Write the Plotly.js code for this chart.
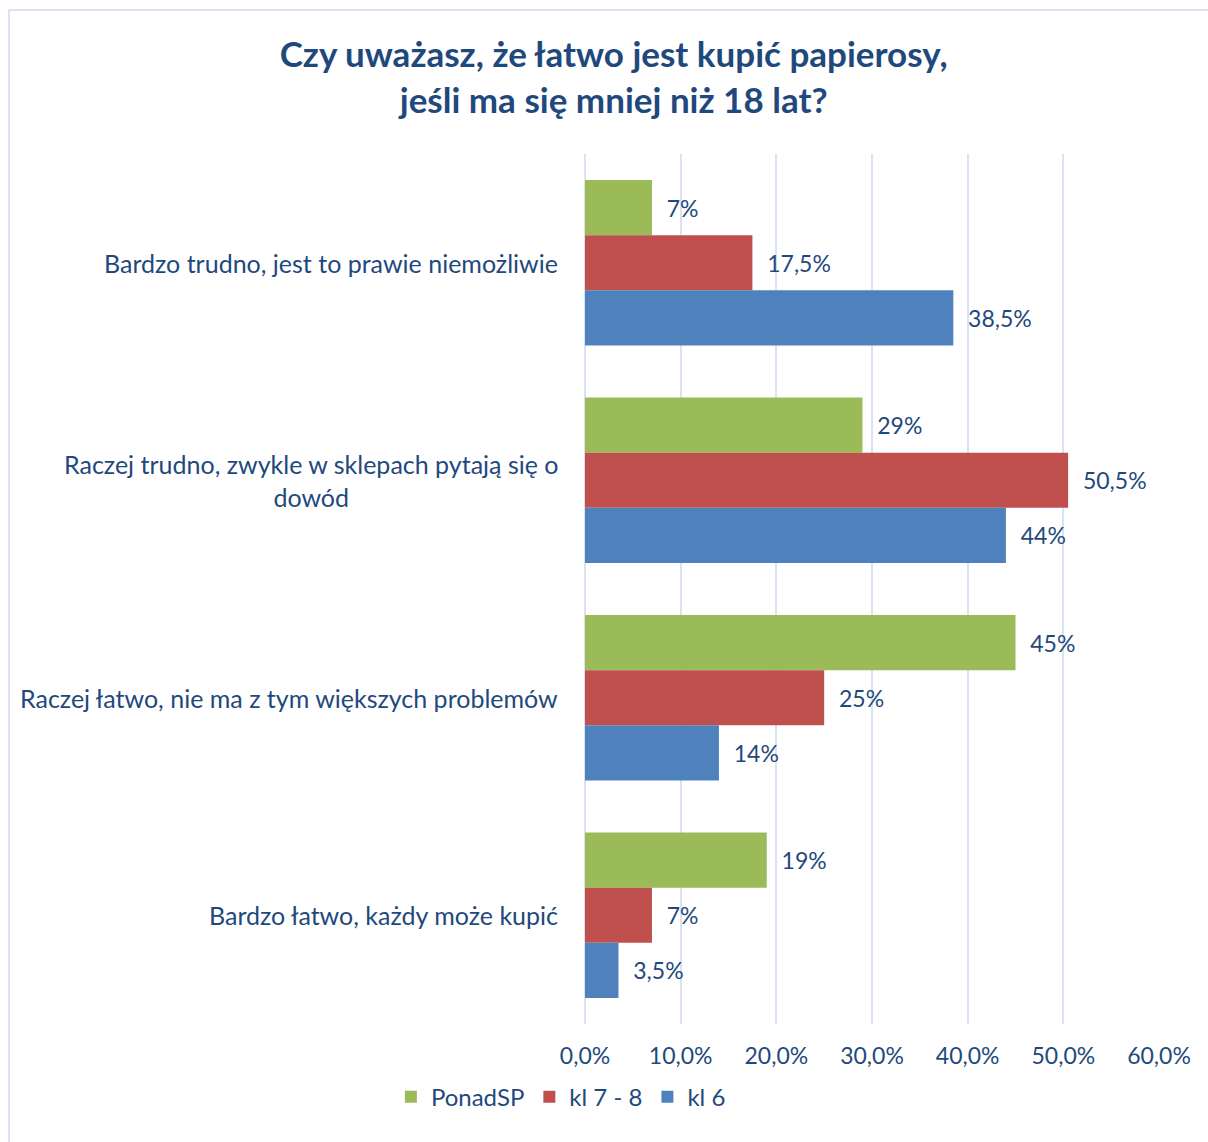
<!DOCTYPE html>
<html>
<head>
<meta charset="utf-8">
<script src="https://cdn.plot.ly/plotly-3.0.1.min.js"></script>
<style>
  html, body { margin: 0; padding: 0; background: #fff; }
  #wrap { position: relative; width: 1208px; height: 1142px; overflow: hidden; }
  #chart { position: absolute; left: 0; top: 0; width: 1208px; height: 1142px; }
  #frame { position: absolute; left: 8px; top: 9px; width: 1199px; height: 1140px;
           border-left: 2px solid #D9E3F1; border-top: 2px solid #D9E3F1; pointer-events: none; }
</style>
</head>
<body>
<div id="wrap">
  <div id="chart"></div>
  <div id="frame"></div>
</div>
<script>
const categories = [
  "Bardzo trudno, jest to prawie niemożliwie",
  "Raczej trudno, zwykle w sklepach pytają się o<br>dowód",
  "Raczej łatwo, nie ma z tym większych problemów",
  "Bardzo łatwo, każdy może kupić"
];
const seriesNames = ["PonadSP", "kl 7 - 8", "kl 6"];
const ponadSP = [7, 29, 45, 19];
const kl78 = [17.5, 50.5, 25, 7];
const kl6 = [38.5, 44, 14, 3.5];
const tickValues = [0, 10, 20, 30, 40, 50, 60];
const tickLabels = ["0,0%", "10,0%", "20,0%", "30,0%", "40,0%", "50,0%", "60,0%"];

const colors = ["#9BBB59", "#C0504D", "#4F81BD"];
const textColor = "#1F497D";
const FONT = "Lato, 'Open Sans', sans-serif";

function fmt(v) { return String(v).replace('.', ',') + '%'; }

const allSeries = [ponadSP, kl78, kl6];
const traces = allSeries.map((vals, i) => ({
  type: 'bar',
  orientation: 'h',
  name: seriesNames[i],
  x: vals,
  y: categories,
  marker: { color: colors[i], line: { width: 0 } },
  text: vals.map(v => '\u00a0\u00a0' + fmt(v)),
  textposition: 'outside',
  textfont: { family: FONT, size: 23, color: textColor },
  cliponaxis: false,
  hoverinfo: 'x+name'
}));

const annotations = categories.map(c => ({
  xref: 'paper', yref: 'y',
  x: 0, y: c,
  xanchor: 'right', yanchor: 'middle',
  xshift: -25,
  text: c,
  align: 'center',
  showarrow: false,
  font: { family: FONT, size: 25, color: textColor }
}));

const layout = {
  width: 1208,
  height: 1142,
  margin: { l: 585, r: 49, t: 154, b: 118 },
  paper_bgcolor: '#ffffff',
  plot_bgcolor: '#ffffff',
  font: { family: FONT, color: textColor },
  title: {
    text: '<b>Czy uważasz, że łatwo jest kupić papierosy,<br>jeśli ma się mniej niż 18 lat?</b>',
    font: { family: FONT, size: 35, color: textColor },
    x: 0.508, xref: 'container', xanchor: 'center',
    y: 0.941, yref: 'container', yanchor: 'middle'
  },
  separators: ',.',
  barmode: 'group',
  bargap: 0.24,
  bargroupgap: 0,
  xaxis: {
    range: [0, 60],
    tickmode: 'array',
    tickvals: tickValues,
    ticktext: tickLabels,
    showgrid: true,
    gridcolor: '#D9E3F1',
    gridwidth: 2,
    zeroline: true,
    zerolinecolor: '#D9E3F1',
    zerolinewidth: 2,
    showline: false,
    ticks: '',
    ticklabelstandoff: 16,
    tickfont: { family: FONT, size: 23, color: textColor },
    fixedrange: true
  },
  yaxis: {
    type: 'category',
    categoryorder: 'array',
    categoryarray: categories,
    autorange: 'reversed',
    showticklabels: false,
    showgrid: false,
    zeroline: false,
    showline: false,
    ticks: '',
    fixedrange: true
  },
  showlegend: true,
  legend: {
    orientation: 'h',
    x: -0.042, xanchor: 'center',
    y: -0.084, yanchor: 'middle',
    font: { family: FONT, size: 24, color: textColor },
    itemwidth: 30,
    traceorder: 'normal'
  },
  annotations: annotations
};

Plotly.newPlot('chart', traces, layout, { displayModeBar: false, staticPlot: true });
</script>
</body>
</html>
